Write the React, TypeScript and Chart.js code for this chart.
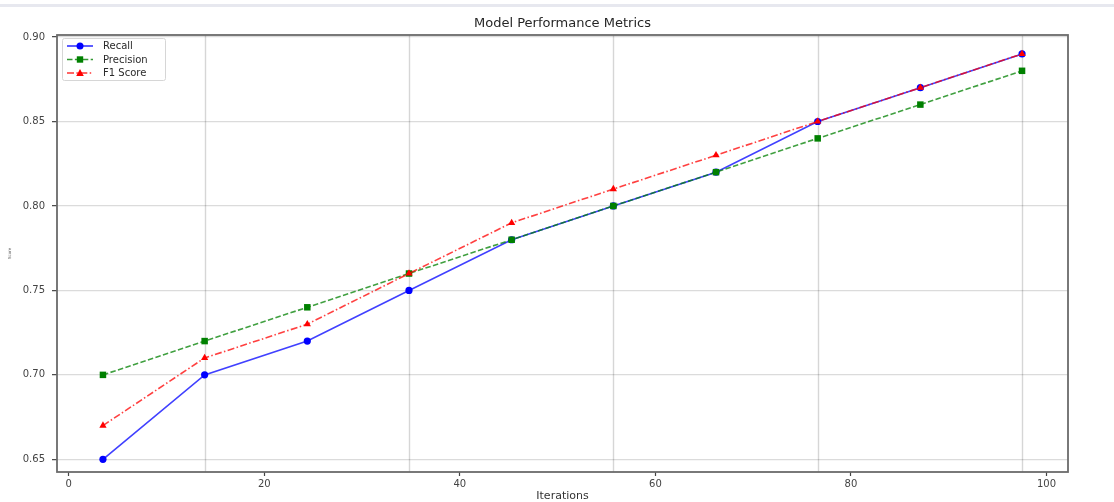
import React, { useEffect, useRef } from "react";
import { Chart, registerables } from "chart.js";

Chart.register(...registerables);

// Iteration positions and metric values per checkpoint
const iterations = [3.5, 13.9, 24.4, 34.8, 45.3, 55.7, 66.2, 76.6, 87.1, 97.5];
const recall = [0.65, 0.7, 0.72, 0.75, 0.78, 0.8, 0.82, 0.85, 0.87, 0.89];
const precision = [0.7, 0.72, 0.74, 0.76, 0.78, 0.8, 0.82, 0.84, 0.86, 0.88];
const f1Score = [0.67, 0.71, 0.73, 0.76, 0.79, 0.81, 0.83, 0.85, 0.87, 0.89];

// Axis ticks and vertical reference lines
const xTicks = [0, 20, 40, 60, 80, 100];
const yTicks = [0.65, 0.7, 0.75, 0.8, 0.85, 0.9];
const verticalGridAt = [13.9, 34.8, 55.7, 76.6, 97.5];

const seriesNames = ["Recall", "Precision", "F1 Score"];

const FONT = "'DejaVu Sans', 'Liberation Sans', sans-serif";

const toPoints = (ys: number[]) => iterations.map((x, i) => ({ x, y: ys[i] }));

function drawMarker(ctx: CanvasRenderingContext2D, kind: string, x: number, y: number, color: string) {
  ctx.save();
  ctx.fillStyle = color;
  ctx.beginPath();
  if (kind === "circle") {
    ctx.arc(x, y, 3.5, 0, Math.PI * 2);
  } else if (kind === "rect") {
    ctx.rect(x - 3.2, y - 3.2, 6.4, 6.4);
  } else {
    ctx.moveTo(x, y - 4);
    ctx.lineTo(x + 3.8, y + 3);
    ctx.lineTo(x - 3.8, y + 3);
    ctx.closePath();
  }
  ctx.fill();
  ctx.restore();
}

const decorations = {
  id: "decorations",
  beforeDraw(chart: any) {
    const { ctx, width, height } = chart;
    ctx.save();
    ctx.fillStyle = "#ffffff";
    ctx.fillRect(0, 0, width, height);
    ctx.fillStyle = "#e7e8ef";
    ctx.fillRect(0, 4, width, 3);
    ctx.restore();
  },
  beforeDatasetsDraw(chart: any) {
    const { ctx, chartArea, scales } = chart;
    ctx.save();
    ctx.strokeStyle = "rgba(0,0,0,0.16)";
    ctx.lineWidth = 1.4;
    verticalGridAt.forEach((v) => {
      const px = Math.round(scales.x.getPixelForValue(v)) + 0.5;
      ctx.beginPath();
      ctx.moveTo(px, chartArea.top);
      ctx.lineTo(px, chartArea.bottom);
      ctx.stroke();
    });
    ctx.restore();
  },
  afterDraw(chart: any) {
    const { ctx, chartArea } = chart;
    ctx.save();

    // frame
    ctx.strokeStyle = "#6b6b6b";
    ctx.lineWidth = 1.8;
    ctx.strokeRect(chartArea.left, chartArea.top, chartArea.right - chartArea.left, chartArea.bottom - chartArea.top);

    // title
    ctx.fillStyle = "#262626";
    ctx.font = `13px ${FONT}`;
    ctx.textAlign = "center";
    ctx.textBaseline = "middle";
    ctx.fillText("Model Performance Metrics", (chartArea.left + chartArea.right) / 2, 24);

    // x axis title
    ctx.font = `11px ${FONT}`;
    ctx.fillStyle = "#333";
    ctx.fillText("Iterations", (chartArea.left + chartArea.right) / 2, 496);

    // y axis title
    ctx.save();
    ctx.translate(10, (chartArea.top + chartArea.bottom) / 2);
    ctx.rotate(-Math.PI / 2);
    ctx.font = `4px ${FONT}`;
    ctx.fillStyle = "#555";
    ctx.fillText("Score", 0, 0);
    ctx.restore();

    // legend
    const bx = chartArea.left + 5;
    const by = chartArea.top + 3;
    const bw = 103;
    const bh = 42;
    ctx.fillStyle = "rgba(255,255,255,0.85)";
    ctx.strokeStyle = "#d6d6d6";
    ctx.lineWidth = 1;
    ctx.beginPath();
    (ctx as any).roundRect(bx + 0.5, by + 0.5, bw, bh, 2);
    ctx.fill();
    ctx.stroke();

    const styles = [
      { color: "rgba(0,0,255,0.8)", marker: "#0000ff", dash: [] as number[], kind: "circle" },
      { color: "rgba(0,128,0,0.8)", marker: "#008000", dash: [5.5, 2.4], kind: "rect" },
      { color: "rgba(255,0,0,0.8)", marker: "#ff0000", dash: [7, 2.4, 1.5, 2.4], kind: "triangle" },
    ];
    seriesNames.forEach((name, i) => {
      const y = by + 8 + i * 13.5;
      const s = styles[i];
      ctx.save();
      ctx.strokeStyle = s.color;
      ctx.lineWidth = 1.6;
      ctx.setLineDash(s.dash);
      ctx.beginPath();
      ctx.moveTo(bx + 5, y);
      ctx.lineTo(bx + 31, y);
      ctx.stroke();
      ctx.restore();
      drawMarker(ctx, s.kind, bx + 18, y, s.marker);
      ctx.fillStyle = "#2a2a2a";
      ctx.font = `10px ${FONT}`;
      ctx.textAlign = "left";
      ctx.textBaseline = "middle";
      ctx.fillText(name, bx + 41, y + 0.5);
    });

    ctx.restore();
  },
};

export default function App() {
  const canvasRef = useRef<HTMLCanvasElement | null>(null);

  useEffect(() => {
    const canvas = canvasRef.current;
    if (!canvas) return;

    const chart = new Chart(canvas, {
      type: "line",
      data: {
        datasets: [
          {
            label: seriesNames[0],
            data: toPoints(recall),
            borderColor: "rgba(0,0,255,0.75)",
            backgroundColor: "#0000ff",
            pointBackgroundColor: "#0000ff",
            pointBorderColor: "#0000ff",
            borderWidth: 1.6,
            pointStyle: "circle",
            pointRadius: 3.6,
            pointBorderWidth: 0,
            tension: 0,
            order: 3,
          },
          {
            label: seriesNames[1],
            data: toPoints(precision),
            borderColor: "rgba(0,128,0,0.75)",
            backgroundColor: "#008000",
            pointBackgroundColor: "#008000",
            pointBorderColor: "#008000",
            borderWidth: 1.6,
            borderDash: [5.5, 2.4],
            pointStyle: "rect",
            pointRadius: 4.6,
            pointBorderWidth: 0,
            tension: 0,
            order: 2,
          },
          {
            label: seriesNames[2],
            data: toPoints(f1Score),
            borderColor: "rgba(255,0,0,0.75)",
            backgroundColor: "#ff0000",
            pointBackgroundColor: "#ff0000",
            pointBorderColor: "#ff0000",
            borderWidth: 1.6,
            borderDash: [7, 2.4, 1.5, 2.4],
            pointStyle: "triangle",
            pointRadius: 4.2,
            pointBorderWidth: 0,
            tension: 0,
            order: 1,
          },
        ],
      },
      options: {
        responsive: false,
        animation: false,
        devicePixelRatio: 1,
        layout: { padding: { top: 35, right: 46, bottom: 0, left: 0 } },
        plugins: {
          legend: { display: false },
          title: { display: false },
          tooltip: { enabled: false },
        },
        scales: {
          x: {
            type: "linear",
            min: -1.2,
            max: 102.2,
            afterBuildTicks: (axis: any) => {
              axis.ticks = xTicks.map((value) => ({ value }));
            },
            afterFit: (axis: any) => {
              axis.height = 30;
            },
            border: { display: false },
            grid: {
              drawOnChartArea: false,
              tickLength: 4,
              tickColor: "#444",
              tickWidth: 1.2,
            },
            ticks: {
              padding: 2,
              color: "#444",
              font: { family: FONT, size: 10 },
              maxRotation: 0,
              callback: (v: any) => String(v),
            },
          },
          y: {
            type: "linear",
            min: 0.6425,
            max: 0.9012,
            afterBuildTicks: (axis: any) => {
              axis.ticks = yTicks.map((value) => ({ value }));
            },
            afterFit: (axis: any) => {
              axis.width = 57;
            },
            border: { display: false },
            grid: {
              color: "rgba(0,0,0,0.14)",
              lineWidth: 1.3,
              tickLength: 5,
              tickColor: "#444",
              tickWidth: 1.2,
            },
            ticks: {
              padding: 7,
              color: "#444",
              font: { family: FONT, size: 10 },
              callback: (v: any) => Number(v).toFixed(2),
            },
          },
        },
      },
      plugins: [decorations],
    } as any);

    return () => chart.destroy();
  }, []);

  return (
    <div style={{ position: "absolute", left: 0, top: 0, width: 1114, height: 502, background: "#fff" }}>
      <canvas ref={canvasRef} width={1114} height={502} style={{ display: "block" }} />
    </div>
  );
}
